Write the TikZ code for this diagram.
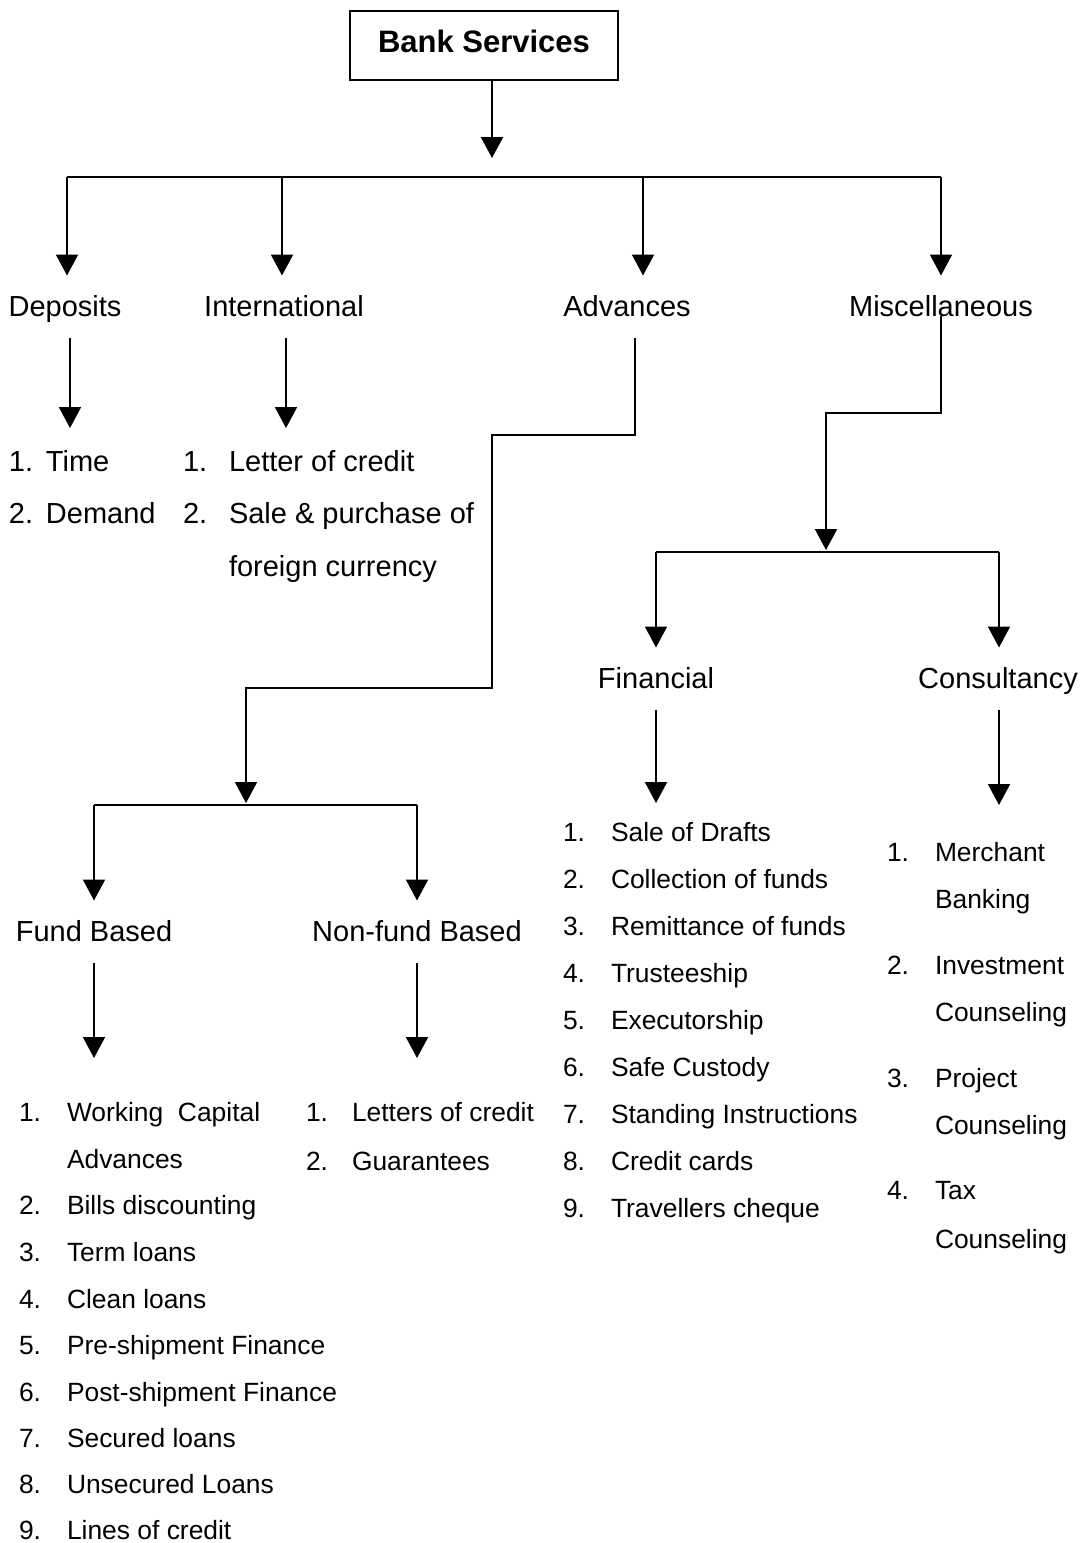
\documentclass[tikz,border=0pt]{standalone}
\usepackage{fontspec}
\setmainfont{Liberation Sans}
\usetikzlibrary{arrows.meta}
\begin{document}
\begin{tikzpicture}[x=0.5pt,y=-0.5pt,
  line width=1pt,
  arr/.style={-{Triangle[width=11pt,length=10.5pt]}},
  cat/.style={anchor=base, inner xsep=0pt, inner ysep=6.75pt, text height=13pt, text depth=3.6pt, font=\fontsize{14.5}{17}\selectfont},
  item/.style={anchor=base west, inner sep=0pt, font=\fontsize{14.5}{17}\selectfont},
  sitem/.style={anchor=base west, inner sep=0pt, font=\fontsize{13.2}{16}\selectfont},
  titlebox/.style={draw, minimum width=134pt, minimum height=34.5pt, inner sep=0pt, text depth=4.5pt, font=\bfseries\fontsize{15.5}{18}\selectfont}
]
\useasboundingbox (0,0) rectangle (1088,1543);

% top
\node[titlebox] (top) at (484,45.5) {Bank Services};
\coordinate (topA) at (492,158);
\draw[arr] (top.south -| topA) -- (topA);

% main bus
\coordinate (bD) at (67,177);
\coordinate (bI) at (282,177);
\coordinate (bA) at (643,177);
\coordinate (bM) at (941,177);
\draw (bD) -- (bM);

% level 1 labels
\node[cat] (dep) at (65,316) {Deposits};
\node[cat] (intl) at (284,316) {International};
\node[cat] (adv) at (627,316) {Advances};
\node[cat] (misc) at (941,316) {Miscellaneous};
\draw[arr] (bD) -- (bD |- dep.north);
\draw[arr] (bI) -- (bI |- intl.north);
\draw[arr] (bA) -- (bA |- adv.north);
\draw[arr] (bM) -- (bM |- misc.north);

% deposits list
\coordinate (depL) at (70,428);
\draw[arr] (depL |- dep.south) -- (depL);
\node[item] (dn1) at (8,471) {1.};
\node[item] (dt1) at (45,471) {Time};
\node[item] (dn2) at (8,523) {2.};
\node[item] (dt2) at (45,523) {Demand};

% international list
\coordinate (intL) at (286,428);
\draw[arr] (intL |- intl.south) -- (intL);
\node[item] (in1) at (182,471) {1.};
\node[item] (it1) at (228,471) {Letter of credit};
\node[item] (in2) at (182,523) {2.};
\node[item] (it2) at (228,523) {Sale \& purchase of};
\node[item] (it2b) at (228,576) {foreign currency};

% advances path
\coordinate (a1) at (635,435);
\coordinate (a2) at (492,435);
\coordinate (a3) at (492,688);
\coordinate (a4) at (246,688);
\coordinate (a5) at (246,803);
\draw[arr] (a1 |- adv.south) -- (a1) -- (a2) -- (a3) -- (a4) -- (a5);
\coordinate (fbL) at (94,805);
\coordinate (fbR) at (417,805);
\draw (fbL) -- (fbR);
\node[cat] (fund) at (94,941) {Fund Based};
\node[cat] (nonf) at (417,941) {Non-fund Based};
\draw[arr] (fbL) -- (fbL |- fund.north);
\draw[arr] (fbR) -- (fbR |- nonf.north);
\coordinate (fL) at (94,1058);
\coordinate (nL) at (417,1058);
\draw[arr] (fL |- fund.south) -- (fL);
\draw[arr] (nL |- nonf.south) -- (nL);

% fund based list
\node[sitem] (fn1) at (18,1121) {1.};
\node[sitem] (ft1) at (66,1121) {Working\ \ Capital};
\node[sitem] (ft1b) at (66,1168) {Advances};
\node[sitem] (fn2) at (18,1214) {2.};
\node[sitem] (ft2) at (66,1214) {Bills discounting};
\node[sitem] (fn3) at (18,1261) {3.};
\node[sitem] (ft3) at (66,1261) {Term loans};
\node[sitem] (fn4) at (18,1308) {4.};
\node[sitem] (ft4) at (66,1308) {Clean loans};
\node[sitem] (fn5) at (18,1354) {5.};
\node[sitem] (ft5) at (66,1354) {Pre-shipment Finance};
\node[sitem] (fn6) at (18,1401) {6.};
\node[sitem] (ft6) at (66,1401) {Post-shipment Finance};
\node[sitem] (fn7) at (18,1447) {7.};
\node[sitem] (ft7) at (66,1447) {Secured loans};
\node[sitem] (fn8) at (18,1493) {8.};
\node[sitem] (ft8) at (66,1493) {Unsecured Loans};
\node[sitem] (fn9) at (18,1539) {9.};
\node[sitem] (ft9) at (66,1539) {Lines of credit};

% non-fund list
\node[sitem] (nn1) at (305,1121) {1.};
\node[sitem] (nt1) at (351,1121) {Letters of credit};
\node[sitem] (nn2) at (305,1170) {2.};
\node[sitem] (nt2) at (351,1170) {Guarantees};

% miscellaneous path
\coordinate (m1) at (941,413);
\coordinate (m2) at (826,413);
\coordinate (m3) at (826,550);
\draw[arr] (misc.base) -- (m1) -- (m2) -- (m3);
\coordinate (mbL) at (656,552);
\coordinate (mbR) at (999,552);
\draw (mbL) -- (mbR);
\node[cat] (fin) at (656,688) {Financial};
\node[cat] (cons) at (998,688) {Consultancy};
\draw[arr] (mbL) -- (mbL |- fin.north);
\draw[arr] (mbR) -- (mbR |- cons.north);
\coordinate (finL) at (656,803);
\coordinate (conL) at (999,805);
\draw[arr] (finL |- fin.south) -- (finL);
\draw[arr] (conL |- cons.south) -- (conL);

% financial list
\foreach \t [count=\i, evaluate=\i as \yy using 841+47*(\i-1)] in
  {Sale of Drafts, Collection of funds, Remittance of funds, Trusteeship,
   Executorship, Safe Custody, Standing Instructions, Credit cards, Travellers cheque}
{
  \node[sitem] (kn\i) at (562,\yy) {\i.};
  \node[sitem] (kt\i) at (610,\yy) {\t};
}

% consultancy list
\node[sitem] (cn1) at (886,861) {1.};
\node[sitem] (ct1) at (934,861) {Merchant};
\node[sitem] (ct1b) at (934,908) {Banking};
\node[sitem] (cn2) at (886,974) {2.};
\node[sitem] (ct2) at (934,974) {Investment};
\node[sitem] (ct2b) at (934,1021) {Counseling};
\node[sitem] (cn3) at (886,1087) {3.};
\node[sitem] (ct3) at (934,1087) {Project};
\node[sitem] (ct3b) at (934,1134) {Counseling};
\node[sitem] (cn4) at (886,1199) {4.};
\node[sitem] (ct4) at (934,1199) {Tax};
\node[sitem] (ct4b) at (934,1248) {Counseling};
\end{tikzpicture}
\end{document}
